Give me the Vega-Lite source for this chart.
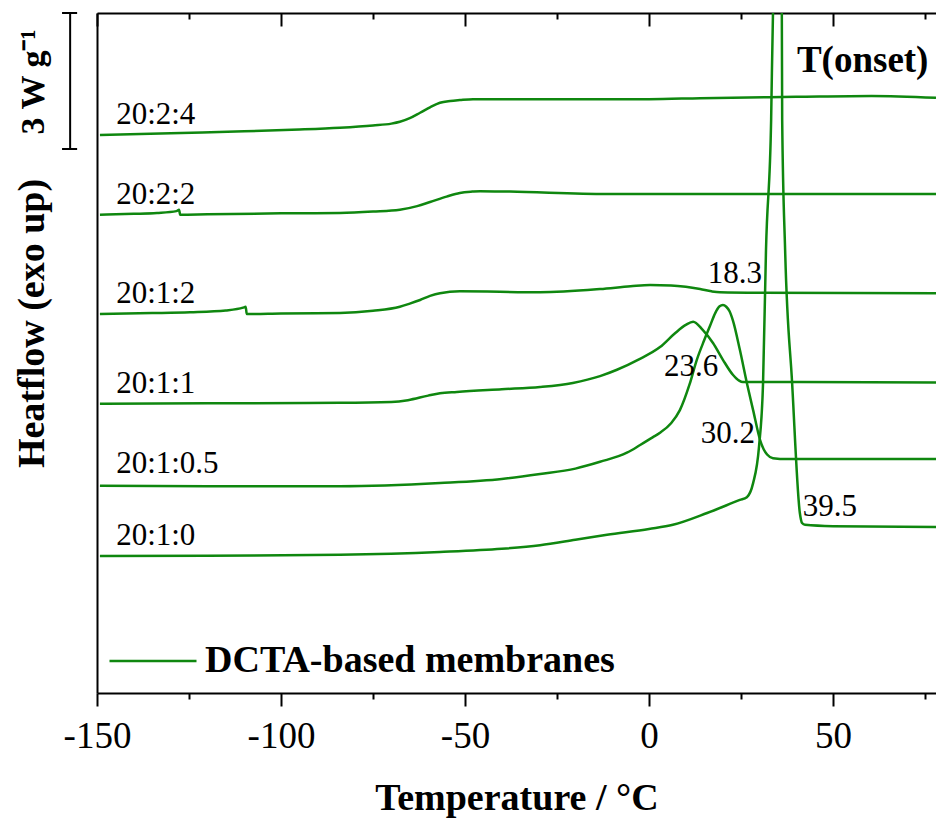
{
  "$schema": "https://vega.github.io/schema/vega-lite/v6.json",
  "width": 839,
  "height": 680,
  "autosize": "none",
  "padding": {"left": 97, "top": 13, "right": 0, "bottom": 125},
  "background": "white",
  "config": {
    "view": {"stroke": null},
    "font": "Liberation Serif",
    "axis": {"grid": false, "domainColor": "black", "tickColor": "black", "domainWidth": 2, "tickWidth": 2, "labelColor": "black", "titleColor": "black"}
  },
  "datasets": {
    "curves": [
      {"series":"20:2:4","group":"DCTA-based membranes","t":-149.2,"h":12.31},
      {"series":"20:2:4","group":"DCTA-based membranes","t":-130,"h":12.35},
      {"series":"20:2:4","group":"DCTA-based membranes","t":-110,"h":12.39},
      {"series":"20:2:4","group":"DCTA-based membranes","t":-95,"h":12.43},
      {"series":"20:2:4","group":"DCTA-based membranes","t":-84,"h":12.47},
      {"series":"20:2:4","group":"DCTA-based membranes","t":-75,"h":12.52},
      {"series":"20:2:4","group":"DCTA-based membranes","t":-70,"h":12.56},
      {"series":"20:2:4","group":"DCTA-based membranes","t":-67.7,"h":12.60},
      {"series":"20:2:4","group":"DCTA-based membranes","t":-65,"h":12.68},
      {"series":"20:2:4","group":"DCTA-based membranes","t":-62.2,"h":12.80},
      {"series":"20:2:4","group":"DCTA-based membranes","t":-59.5,"h":12.92},
      {"series":"20:2:4","group":"DCTA-based membranes","t":-56.8,"h":13.02},
      {"series":"20:2:4","group":"DCTA-based membranes","t":-54,"h":13.06},
      {"series":"20:2:4","group":"DCTA-based membranes","t":-51.4,"h":13.08},
      {"series":"20:2:4","group":"DCTA-based membranes","t":-47.8,"h":13.10},
      {"series":"20:2:4","group":"DCTA-based membranes","t":0,"h":13.10},
      {"series":"20:2:4","group":"DCTA-based membranes","t":13.9,"h":13.12},
      {"series":"20:2:4","group":"DCTA-based membranes","t":40,"h":13.15},
      {"series":"20:2:4","group":"DCTA-based membranes","t":60.5,"h":13.17},
      {"series":"20:2:4","group":"DCTA-based membranes","t":78,"h":13.13},

      {"series":"20:2:2","group":"DCTA-based membranes","t":-149.2,"h":10.55},
      {"series":"20:2:2","group":"DCTA-based membranes","t":-140,"h":10.57},
      {"series":"20:2:2","group":"DCTA-based membranes","t":-133.7,"h":10.59},
      {"series":"20:2:2","group":"DCTA-based membranes","t":-128.4,"h":10.63},
      {"series":"20:2:2","group":"DCTA-based membranes","t":-127.7,"h":10.66},
      {"series":"20:2:2","group":"DCTA-based membranes","t":-127.4,"h":10.55},
      {"series":"20:2:2","group":"DCTA-based membranes","t":-120,"h":10.56},
      {"series":"20:2:2","group":"DCTA-based membranes","t":-100,"h":10.58},
      {"series":"20:2:2","group":"DCTA-based membranes","t":-84,"h":10.59},
      {"series":"20:2:2","group":"DCTA-based membranes","t":-75,"h":10.62},
      {"series":"20:2:2","group":"DCTA-based membranes","t":-67.7,"h":10.66},
      {"series":"20:2:2","group":"DCTA-based membranes","t":-63,"h":10.74},
      {"series":"20:2:2","group":"DCTA-based membranes","t":-59.5,"h":10.83},
      {"series":"20:2:2","group":"DCTA-based membranes","t":-55,"h":10.95},
      {"series":"20:2:2","group":"DCTA-based membranes","t":-51.4,"h":11.03},
      {"series":"20:2:2","group":"DCTA-based membranes","t":-48,"h":11.06},
      {"series":"20:2:2","group":"DCTA-based membranes","t":-45.9,"h":11.07},
      {"series":"20:2:2","group":"DCTA-based membranes","t":-37.8,"h":11.06},
      {"series":"20:2:2","group":"DCTA-based membranes","t":-11.4,"h":11.01},
      {"series":"20:2:2","group":"DCTA-based membranes","t":13.9,"h":11.01},
      {"series":"20:2:2","group":"DCTA-based membranes","t":78,"h":11.01},

      {"series":"20:1:2","group":"DCTA-based membranes","t":-149.2,"h":8.36},
      {"series":"20:1:2","group":"DCTA-based membranes","t":-135,"h":8.38},
      {"series":"20:1:2","group":"DCTA-based membranes","t":-124.7,"h":8.40},
      {"series":"20:1:2","group":"DCTA-based membranes","t":-115,"h":8.44},
      {"series":"20:1:2","group":"DCTA-based membranes","t":-110.3,"h":8.50},
      {"series":"20:1:2","group":"DCTA-based membranes","t":-109.6,"h":8.52},
      {"series":"20:1:2","group":"DCTA-based membranes","t":-109.3,"h":8.36},
      {"series":"20:1:2","group":"DCTA-based membranes","t":-100,"h":8.37},
      {"series":"20:1:2","group":"DCTA-based membranes","t":-84,"h":8.38},
      {"series":"20:1:2","group":"DCTA-based membranes","t":-75,"h":8.43},
      {"series":"20:1:2","group":"DCTA-based membranes","t":-67.7,"h":8.52},
      {"series":"20:1:2","group":"DCTA-based membranes","t":-65,"h":8.59},
      {"series":"20:1:2","group":"DCTA-based membranes","t":-62.2,"h":8.67},
      {"series":"20:1:2","group":"DCTA-based membranes","t":-59.5,"h":8.76},
      {"series":"20:1:2","group":"DCTA-based membranes","t":-56.8,"h":8.82},
      {"series":"20:1:2","group":"DCTA-based membranes","t":-51.4,"h":8.86},
      {"series":"20:1:2","group":"DCTA-based membranes","t":-29.6,"h":8.84},
      {"series":"20:1:2","group":"DCTA-based membranes","t":-13.3,"h":8.91},
      {"series":"20:1:2","group":"DCTA-based membranes","t":-5,"h":8.97},
      {"series":"20:1:2","group":"DCTA-based membranes","t":0.3,"h":9.00},
      {"series":"20:1:2","group":"DCTA-based membranes","t":6,"h":8.99},
      {"series":"20:1:2","group":"DCTA-based membranes","t":10,"h":8.96},
      {"series":"20:1:2","group":"DCTA-based membranes","t":13.9,"h":8.91},
      {"series":"20:1:2","group":"DCTA-based membranes","t":17,"h":8.86},
      {"series":"20:1:2","group":"DCTA-based membranes","t":19.3,"h":8.84},
      {"series":"20:1:2","group":"DCTA-based membranes","t":30,"h":8.83},
      {"series":"20:1:2","group":"DCTA-based membranes","t":78,"h":8.82},

      {"series":"20:1:1","group":"DCTA-based membranes","t":-149.2,"h":6.38},
      {"series":"20:1:1","group":"DCTA-based membranes","t":-120,"h":6.39},
      {"series":"20:1:1","group":"DCTA-based membranes","t":-84,"h":6.40},
      {"series":"20:1:1","group":"DCTA-based membranes","t":-70,"h":6.42},
      {"series":"20:1:1","group":"DCTA-based membranes","t":-65.5,"h":6.46},
      {"series":"20:1:1","group":"DCTA-based membranes","t":-60,"h":6.56},
      {"series":"20:1:1","group":"DCTA-based membranes","t":-56.8,"h":6.61},
      {"series":"20:1:1","group":"DCTA-based membranes","t":-52.2,"h":6.64},
      {"series":"20:1:1","group":"DCTA-based membranes","t":-40,"h":6.70},
      {"series":"20:1:1","group":"DCTA-based membranes","t":-29.6,"h":6.75},
      {"series":"20:1:1","group":"DCTA-based membranes","t":-20.7,"h":6.84},
      {"series":"20:1:1","group":"DCTA-based membranes","t":-13.3,"h":6.99},
      {"series":"20:1:1","group":"DCTA-based membranes","t":-8.7,"h":7.13},
      {"series":"20:1:1","group":"DCTA-based membranes","t":-3,"h":7.35},
      {"series":"20:1:1","group":"DCTA-based membranes","t":3,"h":7.63},
      {"series":"20:1:1","group":"DCTA-based membranes","t":7,"h":7.93},
      {"series":"20:1:1","group":"DCTA-based membranes","t":10,"h":8.12},
      {"series":"20:1:1","group":"DCTA-based membranes","t":12,"h":8.19},
      {"series":"20:1:1","group":"DCTA-based membranes","t":14.6,"h":8.01},
      {"series":"20:1:1","group":"DCTA-based membranes","t":17.4,"h":7.72},
      {"series":"20:1:1","group":"DCTA-based membranes","t":20.1,"h":7.35},
      {"series":"20:1:1","group":"DCTA-based membranes","t":22.8,"h":7.02},
      {"series":"20:1:1","group":"DCTA-based membranes","t":24.5,"h":6.89},
      {"series":"20:1:1","group":"DCTA-based membranes","t":25.5,"h":6.86},
      {"series":"20:1:1","group":"DCTA-based membranes","t":40,"h":6.86},
      {"series":"20:1:1","group":"DCTA-based membranes","t":78,"h":6.85},

      {"series":"20:1:0.5","group":"DCTA-based membranes","t":-149.2,"h":4.57},
      {"series":"20:1:0.5","group":"DCTA-based membranes","t":-120,"h":4.56},
      {"series":"20:1:0.5","group":"DCTA-based membranes","t":-84,"h":4.56},
      {"series":"20:1:0.5","group":"DCTA-based membranes","t":-56.8,"h":4.63},
      {"series":"20:1:0.5","group":"DCTA-based membranes","t":-40,"h":4.72},
      {"series":"20:1:0.5","group":"DCTA-based membranes","t":-29.6,"h":4.83},
      {"series":"20:1:0.5","group":"DCTA-based membranes","t":-20,"h":4.95},
      {"series":"20:1:0.5","group":"DCTA-based membranes","t":-13.3,"h":5.10},
      {"series":"20:1:0.5","group":"DCTA-based membranes","t":-6,"h":5.30},
      {"series":"20:1:0.5","group":"DCTA-based membranes","t":-2.4,"h":5.47},
      {"series":"20:1:0.5","group":"DCTA-based membranes","t":1,"h":5.64},
      {"series":"20:1:0.5","group":"DCTA-based membranes","t":3,"h":5.74},
      {"series":"20:1:0.5","group":"DCTA-based membranes","t":6,"h":5.95},
      {"series":"20:1:0.5","group":"DCTA-based membranes","t":8.4,"h":6.24},
      {"series":"20:1:0.5","group":"DCTA-based membranes","t":11,"h":6.80},
      {"series":"20:1:0.5","group":"DCTA-based membranes","t":13,"h":7.35},
      {"series":"20:1:0.5","group":"DCTA-based membranes","t":15,"h":7.78},
      {"series":"20:1:0.5","group":"DCTA-based membranes","t":16.6,"h":8.10},
      {"series":"20:1:0.5","group":"DCTA-based membranes","t":18,"h":8.38},
      {"series":"20:1:0.5","group":"DCTA-based membranes","t":19.2,"h":8.53},
      {"series":"20:1:0.5","group":"DCTA-based membranes","t":20.1,"h":8.56},
      {"series":"20:1:0.5","group":"DCTA-based membranes","t":21.0,"h":8.52},
      {"series":"20:1:0.5","group":"DCTA-based membranes","t":21.9,"h":8.42},
      {"series":"20:1:0.5","group":"DCTA-based membranes","t":22.8,"h":8.22},
      {"series":"20:1:0.5","group":"DCTA-based membranes","t":24.7,"h":7.57},
      {"series":"20:1:0.5","group":"DCTA-based membranes","t":26.6,"h":6.84},
      {"series":"20:1:0.5","group":"DCTA-based membranes","t":28.3,"h":6.24},
      {"series":"20:1:0.5","group":"DCTA-based membranes","t":30.2,"h":5.58},
      {"series":"20:1:0.5","group":"DCTA-based membranes","t":31.2,"h":5.37},
      {"series":"20:1:0.5","group":"DCTA-based membranes","t":32.1,"h":5.26},
      {"series":"20:1:0.5","group":"DCTA-based membranes","t":33.7,"h":5.18},
      {"series":"20:1:0.5","group":"DCTA-based membranes","t":37.5,"h":5.16},
      {"series":"20:1:0.5","group":"DCTA-based membranes","t":78,"h":5.16},

      {"series":"20:1:0","group":"DCTA-based membranes","t":-149.2,"h":3.02},
      {"series":"20:1:0","group":"DCTA-based membranes","t":-120,"h":3.03},
      {"series":"20:1:0","group":"DCTA-based membranes","t":-84,"h":3.05},
      {"series":"20:1:0","group":"DCTA-based membranes","t":-56.8,"h":3.11},
      {"series":"20:1:0","group":"DCTA-based membranes","t":-40,"h":3.18},
      {"series":"20:1:0","group":"DCTA-based membranes","t":-29.6,"h":3.26},
      {"series":"20:1:0","group":"DCTA-based membranes","t":-20,"h":3.38},
      {"series":"20:1:0","group":"DCTA-based membranes","t":-11.4,"h":3.49},
      {"series":"20:1:0","group":"DCTA-based membranes","t":0,"h":3.62},
      {"series":"20:1:0","group":"DCTA-based membranes","t":6.5,"h":3.71},
      {"series":"20:1:0","group":"DCTA-based membranes","t":15.8,"h":3.97},
      {"series":"20:1:0","group":"DCTA-based membranes","t":24.7,"h":4.26},
      {"series":"20:1:0","group":"DCTA-based membranes","t":26.6,"h":4.32},
      {"series":"20:1:0","group":"DCTA-based membranes","t":28.3,"h":4.63},
      {"series":"20:1:0","group":"DCTA-based membranes","t":29.9,"h":5.43},
      {"series":"20:1:0","group":"DCTA-based membranes","t":31.0,"h":6.84},
      {"series":"20:1:0","group":"DCTA-based membranes","t":31.8,"h":9.77},
      {"series":"20:1:0","group":"DCTA-based membranes","t":33.2,"h":12.65},
      {"series":"20:1:0","group":"DCTA-based membranes","t":33.7,"h":15.0},
      {"series":"20:1:0","group":"DCTA-based membranes","t":35.0,"h":16.5},
      {"series":"20:1:0","group":"DCTA-based membranes","t":36.1,"h":15.0},
      {"series":"20:1:0","group":"DCTA-based membranes","t":36.2,"h":12.64},
      {"series":"20:1:0","group":"DCTA-based membranes","t":37.0,"h":9.77},
      {"series":"20:1:0","group":"DCTA-based membranes","t":38.9,"h":6.84},
      {"series":"20:1:0","group":"DCTA-based membranes","t":41.0,"h":3.97},
      {"series":"20:1:0","group":"DCTA-based membranes","t":41.6,"h":3.75},
      {"series":"20:1:0","group":"DCTA-based membranes","t":42.4,"h":3.71},
      {"series":"20:1:0","group":"DCTA-based membranes","t":50,"h":3.68},
      {"series":"20:1:0","group":"DCTA-based membranes","t":78,"h":3.66}
    ],
    "seriesLabels": [
      {"label":"20:2:4","t":-144.8,"h":12.55},
      {"label":"20:2:2","t":-144.8,"h":10.79},
      {"label":"20:1:2","t":-144.8,"h":8.60},
      {"label":"20:1:1","t":-144.8,"h":6.62},
      {"label":"20:1:0.5","t":-144.8,"h":4.85},
      {"label":"20:1:0","t":-144.8,"h":3.26}
    ],
    "onsets": [
      {"label":"18.3","t":16.0,"h":9.04},
      {"label":"23.6","t":4.1,"h":6.99},
      {"label":"30.2","t":14.1,"h":5.52},
      {"label":"39.5","t":41.8,"h":3.90}
    ],
    "heading": [
      {"label":"T(onset)","t":40.2,"h":13.70}
    ],
    "scalebar": [
      {"t1":-157.3,"t2":-157.3,"h1":15,"h2":12},
      {"t1":-159.5,"t2":-155.4,"h1":15,"h2":15},
      {"t1":-159.5,"t2":-155.4,"h1":12,"h2":12}
    ],
    "scalebarLabel": [
      {"label":"3 W g⁻¹","t":-164.4,"h":13.48}
    ]
  },
  "resolve": {"axis": {"x": "independent", "y": "independent"}},
  "layer": [
    {
      "data": {"name": "curves"},
      "mark": {"type": "line", "clip": true, "strokeWidth": 2.5, "interpolate": "monotone"},
      "encoding": {
        "x": {"field": "t", "type": "quantitative", "scale": {"domain": [-150, 78], "nice": false, "zero": false},
          "axis": {"orient": "bottom", "values": [-150, -125, -100, -75, -50, -25, 0, 25, 50, 75],
            "tickSize": {"condition": {"test": "datum.value % 50 === 0", "value": 13}, "value": 6},
            "labelExpr": "datum.value % 50 === 0 ? '' + datum.value : ''",
            "labelFontSize": 37, "labelFont": "Liberation Serif", "labelBaseline": "alphabetic", "labelPadding": 41, "labelFlush": false, "labelOverlap": false,
            "title": "Temperature / °C", "titleFontSize": 38, "titleFont": "Liberation Serif", "titleFontWeight": "bold", "titleBaseline": "alphabetic", "titleY": 116}},
        "y": {"field": "h", "type": "quantitative", "scale": {"domain": [0, 15], "nice": false, "zero": false},
          "axis": {"orient": "left", "ticks": false, "labels": false, "domain": true,
            "title": "Heatflow (exo up)", "titleFontSize": 38, "titleFont": "Liberation Serif", "titleFontWeight": "bold", "titleAngle": 270, "titleAlign": "center", "titleBaseline": "alphabetic", "titleX": -54, "titleY": 310}},
        "detail": {"field": "series"},
        "color": {"field": "group", "type": "nominal", "scale": {"range": ["#0f870f"]},
          "legend": {"orient": "none", "legendX": 11, "legendY": 603, "title": null, "symbolType": "stroke", "symbolSize": 7569, "symbolStrokeWidth": 2.5, "labelFontSize": 38, "labelFontWeight": "bold", "labelFont": "Liberation Serif", "labelColor": "black", "labelOffset": 7, "padding": 0, "labelLimit": 600}}
      }
    },
    {
      "data": {"name": "seriesLabels"},
      "mark": {"type": "text", "align": "left", "baseline": "alphabetic", "fontSize": 31, "font": "Liberation Serif", "color": "black"},
      "encoding": {
        "x": {"field": "t", "type": "quantitative",
          "axis": {"orient": "bottom", "offset": -680, "values": [-150, -125, -100, -75, -50, -25, 0, 25, 50, 75],
            "tickSize": {"condition": {"test": "datum.value % 50 === 0", "value": 13}, "value": 6},
            "labels": false, "domain": true, "title": null}},
        "y": {"field": "h", "type": "quantitative", "axis": null},
        "text": {"field": "label"}
      }
    },
    {
      "data": {"name": "onsets"},
      "mark": {"type": "text", "align": "left", "baseline": "alphabetic", "fontSize": 31, "font": "Liberation Serif", "color": "black"},
      "encoding": {
        "x": {"field": "t", "type": "quantitative", "axis": null},
        "y": {"field": "h", "type": "quantitative", "axis": null},
        "text": {"field": "label"}
      }
    },
    {
      "data": {"name": "heading"},
      "mark": {"type": "text", "align": "left", "baseline": "alphabetic", "fontSize": 37, "fontWeight": "bold", "font": "Liberation Serif", "color": "black"},
      "encoding": {
        "x": {"field": "t", "type": "quantitative", "axis": null},
        "y": {"field": "h", "type": "quantitative", "axis": null},
        "text": {"field": "label"}
      }
    },
    {
      "data": {"name": "scalebar"},
      "mark": {"type": "rule", "color": "black", "strokeWidth": 2, "clip": false},
      "encoding": {
        "x": {"field": "t1", "type": "quantitative", "axis": null},
        "x2": {"field": "t2"},
        "y": {"field": "h1", "type": "quantitative", "axis": null},
        "y2": {"field": "h2"}
      }
    },
    {
      "data": {"name": "scalebarLabel"},
      "mark": {"type": "text", "align": "center", "baseline": "alphabetic", "angle": 270, "fontSize": 34, "fontWeight": "bold", "font": "Liberation Serif", "color": "black"},
      "encoding": {
        "x": {"field": "t", "type": "quantitative", "axis": null},
        "y": {"field": "h", "type": "quantitative", "axis": null},
        "text": {"field": "label"}
      }
    }
  ]
}
